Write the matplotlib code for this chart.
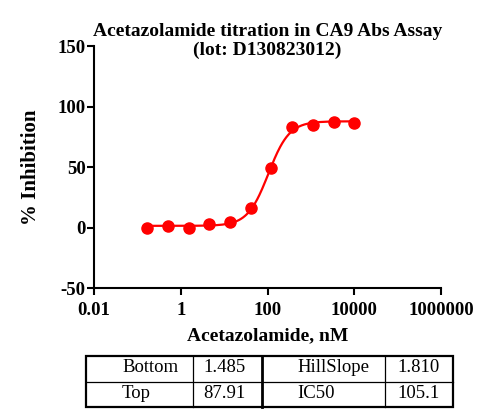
import numpy as np
import matplotlib
matplotlib.use("Agg")
import matplotlib.pyplot as plt

# 3-fold dilution series, nM
conc = [0.169, 0.508, 1.52, 4.57, 13.7, 41.2, 123, 370, 1111, 3333, 10000]
inhibition = [-0.5, 1.7, 0.0, 3.0, 4.4, 16.0, 48.9, 83.0, 84.9, 87.1, 86.3]

# 4PL fit parameters (as reported in the table)
bottom, top, hill, ic50 = 1.485, 87.91, 1.810, 105.1
table_rows = [["Bottom", "1.485", "HillSlope", "1.810"],
              ["Top", "87.91", "IC50", "105.1"]]

plt.rcParams['font.family'] = ['Liberation Serif', 'DejaVu Serif']
plt.rcParams['axes.unicode_minus'] = False

fig = plt.figure(figsize=(5, 4.2), dpi=100)
ax = fig.add_axes([0.188, 0.314, 0.694, 0.576])

xfit = np.logspace(np.log10(conc[0]), np.log10(conc[-1]), 300)
yfit = bottom + (top - bottom) / (1 + (ic50 / xfit) ** hill)
ax.plot(xfit, yfit, color='#ff0000', lw=1.6, zorder=2)
ax.plot(conc, inhibition, 'o', color='#ff0000', ms=8, zorder=3)

ax.set_xscale('log')
ax.set_xlim(0.01, 1e6)
ax.set_ylim(-50, 150)
ax.set_xticks([0.01, 1, 100, 10000, 1000000])
ax.set_xticklabels(["0.01", "1", "100", "10000", "1000000"])
ax.xaxis.set_minor_locator(matplotlib.ticker.NullLocator())
ax.set_yticks([-50, 0, 50, 100, 150])
for s in ['top', 'right']:
    ax.spines[s].set_visible(False)
for s in ['left', 'bottom']:
    ax.spines[s].set_linewidth(1.5)
ax.tick_params(axis='x', width=1.5, length=5, labelsize=13.5, pad=5)
ax.tick_params(axis='y', width=1.5, length=5, labelsize=13.5, pad=1)
for lab in ax.get_xticklabels() + ax.get_yticklabels():
    lab.set_fontweight('bold')

ax.set_xlabel("Acetazolamide, nM", fontsize=14, fontweight='bold', labelpad=6)
ax.set_ylabel("% Inhibition", fontsize=15, fontweight='bold', labelpad=12)
fig.text(0.535, 1 - 59 / 420,
         "Acetazolamide titration in CA9 Abs Assay\n(lot: D130823012)",
         fontsize=14, fontweight='bold', ha='center', va='bottom',
         linespacing=1.15)

# parameter table drawn in pixel coordinates
tab = fig.add_axes([0, 0, 1, 1])
tab.set_xlim(0, 500)
tab.set_ylim(420, 0)
tab.axis('off')
x0, x1, x2, x3, x4 = 86, 193, 262, 385, 453
y0, y1, y2 = 356, 381.5, 406.5
tab.add_patch(plt.Rectangle((x0, y0), x4 - x0, y2 - y0, fill=False, lw=1.6, color='black'))
tab.plot([x0, x4], [y1, y1], color='black', lw=0.9)
tab.plot([x1, x1], [y0, y2], color='black', lw=0.9)
tab.plot([x2, x2], [y0, y2], color='black', lw=2.0)
tab.plot([x3, x3], [y0, y2], color='black', lw=0.9)
text_x = [122, 203, 297, 397]
for row, yc in zip(table_rows, [368, 393]):
    for tx, txt in zip(text_x, row):
        tab.text(tx, yc, txt, fontsize=13.5, ha='left', va='center')

fig.savefig("out.png", dpi=100)
